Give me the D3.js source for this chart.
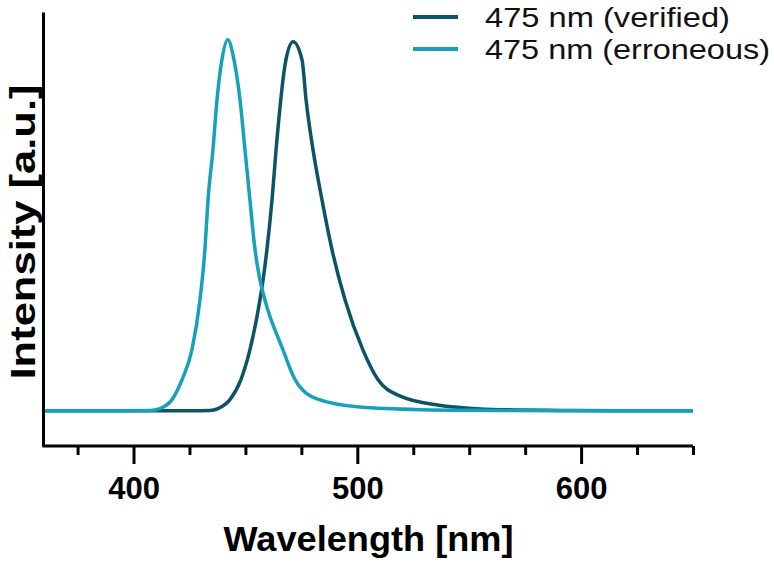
<!DOCTYPE html>
<html>
<head>
<meta charset="utf-8">
<script src="https://cdn.jsdelivr.net/npm/d3@7"></script>
<style>
	body { margin: 0; background: #fff; }
	svg { display: block; }
	.axis path, .axis line { stroke: #000; stroke-width: 3px; }
	.axis text { font-family: "Liberation Sans", Arial, sans-serif; font-weight: bold; font-size: 31px; fill: #000; }
	.axis-label { font-family: "Liberation Sans", Arial, sans-serif; font-weight: bold; font-size: 35px; fill: #000; }
	.legend text { font-family: "Liberation Sans", Arial, sans-serif; font-size: 28px; fill: #111; }
</style>
</head>
<body>
<div id="chart"></div>
<script>
// wavelength (nm) / normalised intensity
var verifiedWl = [360, 400, 425, 434, 437.7, 443.1, 448, 452, 456.5, 457.9, 459.6, 461.9, 463.7, 468.1, 471.3,
	475.3, 477.1, 480.2, 484.2, 488.7, 494.5, 502.5, 509.2, 519, 536.5, 550, 564, 590, 620, 650];
var verifiedI = [0, 0, 0, 0.001, 0.006, 0.03, 0.084, 0.164, 0.299, 0.353, 0.434, 0.569, 0.704, 0.946, 0.995,
	0.946, 0.838, 0.704, 0.569, 0.434, 0.299, 0.164, 0.084, 0.04, 0.015, 0.007, 0.003, 0.001, 0, 0];

var erroneousWl = [360, 390, 407.4, 411.8, 417.2, 421.7, 426.1, 429.7, 431.9, 433.3, 435.5, 437.3, 439.5, 442.1,
	444.9, 447.6, 449.8, 452, 454.3, 456.5, 458.7, 466.8, 472.2, 482, 501, 528, 560, 600, 650];
var erroneousI = [0, 0, 0.001, 0.006, 0.03, 0.084, 0.164, 0.299, 0.434, 0.569, 0.704, 0.838, 0.946, 1.0,
	0.946, 0.838, 0.704, 0.569, 0.434, 0.353, 0.299, 0.164, 0.084, 0.032, 0.01, 0.003, 0.001, 0, 0];

var seriesNames = ["475 nm (verified)", "475 nm (erroneous)"];
var seriesColors = ["#0b5467", "#17a0ba"];

var majorTicks = [400, 500, 600];
var minorTicks = [375, 425, 450, 475, 525, 550, 575, 625, 650];

var width = 774, height = 563;

var svg = d3.select("#chart").append("svg")
	.attr("width", width)
	.attr("height", height);

var x = d3.scaleLinear().domain([360, 650]).range([44, 693]);
var y = d3.scaleLinear().domain([-0.095, 1.075]).range([446, 12]);

var series = [
	{ name: seriesNames[0], color: seriesColors[0], pts: d3.zip(verifiedWl, verifiedI), len: 245 },
	{ name: seriesNames[1], color: seriesColors[1], pts: d3.zip(erroneousWl, erroneousI), len: 285 }
];

var line = d3.line()
	.x(function(d) { return x(d[0]); })
	.y(function(d) { return y(d[1]); })
	.curve(d3.curveMonotoneX);

// draw verified first, then erroneous on top
svg.append("g").attr("class", "lines")
	.selectAll("path")
	.data(series)
	.enter()
	.append("path")
	.attr("d", function(d) { return line(d.pts); })
	.attr("fill", "none")
	.attr("stroke", function(d) { return d.color; })
	.attr("stroke-width", 3.5)
	.attr("stroke-linejoin", "round");

// minor ticks
svg.append("g")
	.attr("class", "axis")
	.attr("transform", "translate(0," + y.range()[0] + ")")
	.call(d3.axisBottom(x).tickValues(minorTicks).tickSize(9).tickFormat(""))
	.select(".domain").remove();

// x axis with major ticks
svg.append("g")
	.attr("class", "x axis")
	.attr("transform", "translate(0," + y.range()[0] + ")")
	.call(d3.axisBottom(x).tickValues(majorTicks).tickSize(18).tickSizeOuter(0).tickPadding(13).tickFormat(d3.format("d")));

svg.select(".x.axis .domain").attr("d", "M" + (x.range()[0] - 1.5) + ",0H" + x.range()[1]);

// y axis, line only
svg.append("g")
	.attr("class", "y axis")
	.attr("transform", "translate(" + (x.range()[0] - 1) + ",0)")
	.call(d3.axisLeft(y).tickValues([]).tickSizeOuter(0));

svg.append("text")
	.attr("class", "axis-label")
	.attr("text-anchor", "middle")
	.attr("x", (x.range()[0] + x.range()[1]) / 2)
	.attr("y", 551)
	.attr("textLength", 290)
	.attr("lengthAdjust", "spacingAndGlyphs")
	.text("Wavelength [nm]");

// the original figure is stretched along the y title
svg.append("text")
	.attr("class", "axis-label")
	.attr("text-anchor", "middle")
	.attr("transform", "translate(35," + 232 + ") rotate(-90)")
	.attr("textLength", 295)
	.attr("lengthAdjust", "spacingAndGlyphs")
	.text("Intensity [a.u.]");

// legend
var legend = svg.append("g").attr("class", "legend")
	.selectAll("g")
	.data(series)
	.enter()
	.append("g")
	.attr("transform", function(d, i) { return "translate(0," + (17 + i * 32) + ")"; });

legend.append("line")
	.attr("x1", 413).attr("x2", 458)
	.attr("stroke", function(d) { return d.color; })
	.attr("stroke-width", 4);

legend.append("text")
	.attr("x", 485)
	.attr("dy", "0.36em")
	.attr("textLength", function(d) { return d.len; })
	.attr("lengthAdjust", "spacingAndGlyphs")
	.text(function(d) { return d.name; });
</script>
</body>
</html>
